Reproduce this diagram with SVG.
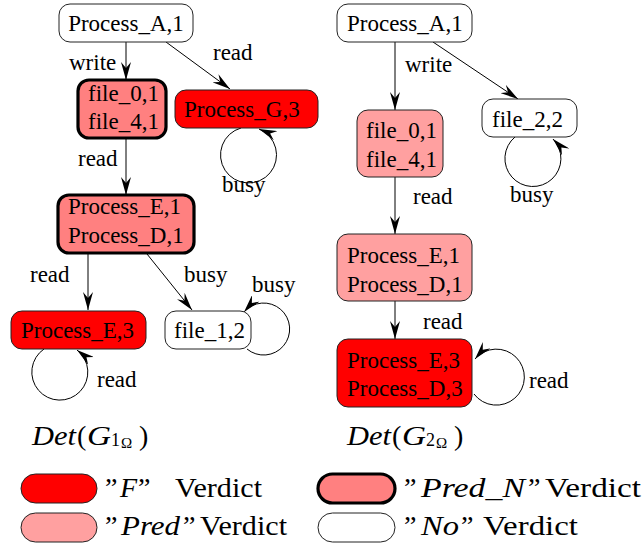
<svg xmlns="http://www.w3.org/2000/svg" width="644" height="543" viewBox="0 0 644 543" font-family="'Liberation Serif','Times New Roman',serif">
<style>
text{font-family:"Liberation Serif","Times New Roman",serif;fill:#000}
.n{font-size:23px}
.l{font-size:23px}
.box{stroke:#222;stroke-width:1}
.thick{stroke:#000;stroke-width:3.2}
.no{fill:#fff}
.f{fill:#ff0000}
.pn{fill:#ff8080}
.p{fill:#ffa0a0}
.e{fill:none;stroke:#000;stroke-width:1;marker-end:url(#ah)}
.det{font-size:28px}
.lg{font-size:28px}
.it{font-style:italic}
</style>
<defs>
<marker id="ah" viewBox="0 0 18 10" refX="18" refY="5" markerWidth="18" markerHeight="10" markerUnits="userSpaceOnUse" orient="auto">
<path d="M0,0 L18,5 L0,10 L6,5 Z" fill="#000"/>
</marker>
</defs>
<g id="connectors">
<path class="e" d="M126,42 L126,80"/>
<path class="e" d="M166,42 L230,89"/>
<path class="e" d="M241,128 A28,28 0 1 0 259,129"/>
<path class="e" d="M126,138 L126,195"/>
<path class="e" d="M88,253 L88,310"/>
<path class="e" d="M147,254 L192,310"/>
<path class="e" d="M44,349 A28,28 0 1 0 77,350"/>
<path class="e" d="M247,349 A26,26 0 1 0 244,312"/>
<path class="e" d="M395,42 L395,110"/>
<path class="e" d="M433,42 L518,99"/>
<path class="e" d="M515,137 A28,28 0 1 0 553,139"/>
<path class="e" d="M395,177 L395,234"/>
<path class="e" d="M395,301 L395,339"/>
<path class="e" d="M474,394 A28,28 0 1 0 475,359"/>
<text class="l" x="69" y="70">write</text>
<text class="l" x="213" y="60">read</text>
<text class="l" x="222" y="192">busy</text>
<text class="l" x="78" y="166">read</text>
<text class="l" x="30" y="282">read</text>
<text class="l" x="184" y="282">busy</text>
<text class="l" x="252" y="292">busy</text>
<text class="l" x="97" y="387">read</text>
<text class="l" x="405" y="72">write</text>
<text class="l" x="413" y="204">read</text>
<text class="l" x="510" y="202">busy</text>
<text class="l" x="423" y="329">read</text>
<text class="l" x="529" y="388">read</text>
</g>
<g id="L_A1">
<rect class="box no" x="59" y="4" width="134" height="38" rx="11"/>
<text class="n" x="126" y="31" text-anchor="middle">Process_A,1</text>
</g>
<g id="L_files">
<rect class="thick pn" x="78" y="80" width="88" height="58" rx="11"/>
<text class="n" x="88" y="101">file_0,1</text>
<text class="n" x="88" y="129">file_4,1</text>
</g>
<g id="L_G3">
<rect class="box f" x="175" y="90" width="143" height="38" rx="11"/>
<text class="n" x="184" y="117">Process_G,3</text>
</g>
<g id="L_ED1">
<rect class="thick pn" x="58" y="195" width="136" height="58" rx="11"/>
<text class="n" x="68" y="214">Process_E,1</text>
<text class="n" x="68" y="243">Process_D,1</text>
</g>
<g id="L_E3">
<rect class="box f" x="11" y="311" width="135" height="38" rx="11"/>
<text class="n" x="21" y="338">Process_E,3</text>
</g>
<g id="L_file12">
<rect class="box no" x="165" y="311" width="86" height="38" rx="11"/>
<text class="n" x="174" y="338">file_1,2</text>
</g>
<g id="R_A1">
<rect class="box no" x="337" y="4" width="135" height="38" rx="11"/>
<text class="n" x="347" y="31">Process_A,1</text>
</g>
<g id="R_files">
<rect class="box p" x="357" y="110" width="86" height="67" rx="11"/>
<text class="n" x="366" y="138">file_0,1</text>
<text class="n" x="366" y="167">file_4,1</text>
</g>
<g id="R_file22">
<rect class="box no" x="482" y="99" width="95" height="38" rx="11"/>
<text class="n" x="492" y="127">file_2,2</text>
</g>
<g id="R_ED1">
<rect class="box p" x="337" y="234" width="135" height="67" rx="11"/>
<text class="n" x="347" y="263">Process_E,1</text>
<text class="n" x="347" y="292">Process_D,1</text>
</g>
<g id="R_ED3">
<rect class="box f" x="337" y="339" width="135" height="68" rx="11"/>
<text class="n" x="347" y="368">Process_E,3</text>
<text class="n" x="347" y="396">Process_D,3</text>
</g>
<g id="titles">
<text class="det" y="445"><tspan class="it" x="32" textLength="44" lengthAdjust="spacingAndGlyphs">Det</tspan><tspan x="77">(</tspan><tspan class="it" x="87" textLength="24" lengthAdjust="spacingAndGlyphs">G</tspan><tspan x="111" y="446" font-size="18">1</tspan><tspan x="121" y="448" font-size="15">Ω</tspan><tspan x="139" y="445">)</tspan></text>
<text class="det" y="445"><tspan class="it" x="347" textLength="44" lengthAdjust="spacingAndGlyphs">Det</tspan><tspan x="392">(</tspan><tspan class="it" x="402" textLength="24" lengthAdjust="spacingAndGlyphs">G</tspan><tspan x="426" y="446" font-size="18">2</tspan><tspan x="436" y="448" font-size="15">Ω</tspan><tspan x="454" y="445">)</tspan></text>
</g>
<g id="legend">
<rect class="box f" x="21" y="474" width="76" height="29" rx="14.5"/>
<text class="lg" y="497"><tspan x="105">”</tspan><tspan class="it" x="120">F</tspan><tspan x="138">”</tspan><tspan x="175" textLength="87" lengthAdjust="spacingAndGlyphs">Verdict</tspan></text>
<rect class="thick pn" x="318" y="474" width="77" height="29" rx="14.5"/>
<text class="lg" y="497"><tspan x="404">”</tspan><tspan class="it" x="421" textLength="104" lengthAdjust="spacingAndGlyphs">Pred_N</tspan><tspan x="528">”</tspan><tspan x="545" textLength="96" lengthAdjust="spacingAndGlyphs">Verdict</tspan></text>
<rect class="box p" x="21" y="513" width="76" height="29" rx="14.5"/>
<text class="lg" y="535"><tspan x="105">”</tspan><tspan class="it" x="121" textLength="59" lengthAdjust="spacingAndGlyphs">Pred</tspan><tspan x="183">”</tspan><tspan x="200" textLength="87" lengthAdjust="spacingAndGlyphs">Verdict</tspan></text>
<rect class="box no" x="318" y="513" width="77" height="29" rx="14.5"/>
<text class="lg" y="535"><tspan x="404">”</tspan><tspan class="it" x="421" textLength="38" lengthAdjust="spacingAndGlyphs">No</tspan><tspan x="461">”</tspan><tspan x="483" textLength="95" lengthAdjust="spacingAndGlyphs">Verdict</tspan></text>
</g>
</svg>
